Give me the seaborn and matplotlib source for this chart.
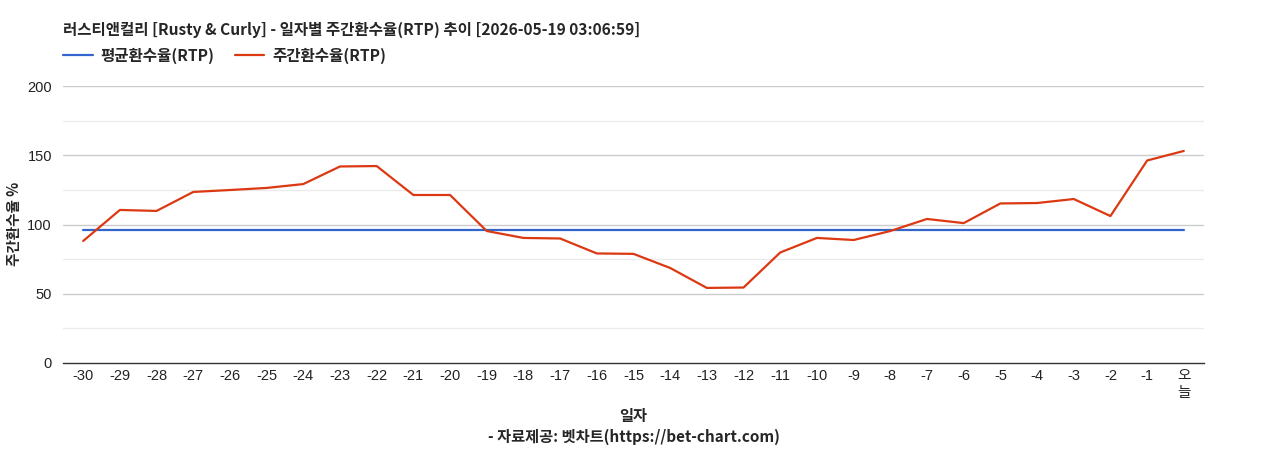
import pandas as pd
import seaborn as sns
import matplotlib.pyplot as plt

days = ['-30', '-29', '-28', '-27', '-26', '-25', '-24', '-23', '-22', '-21',
        '-20', '-19', '-18', '-17', '-16', '-15', '-14', '-13', '-12', '-11',
        '-10', '-9', '-8', '-7', '-6', '-5', '-4', '-3', '-2', '-1', '오\n늘']
weekly_rtp = [88.1, 110.5, 109.8, 123.5, 124.9, 126.4, 129.2, 141.9, 142.2, 121.3,
              121.3, 95.3, 90.3, 89.9, 79.1, 78.8, 68.6, 54.2, 54.5, 79.8,
              90.3, 88.8, 95.3, 104.0, 101.0, 115.2, 115.5, 118.4, 106.1, 146.2, 153.1]
avg_rtp = 96.0

title = '러스티앤컬리 [Rusty & Curly] - 일자별 주간환수율(RTP) 추이 [2026-05-19 03:06:59]'

sns.set_theme(style='white')
plt.rcParams['font.family'] = ['Noto Sans CJK KR', 'DejaVu Sans']

df = pd.DataFrame({'pos': range(len(days)), 'day': days, 'weekly': weekly_rtp,
                   'avg': [avg_rtp] * len(days)})

fig = plt.figure(figsize=(12.68, 4.5), dpi=100)
ax = fig.add_axes([63 / 1268, 87 / 450, (1204 - 63) / 1268, (363 - 86) / 450])

# gridlines
for v in [25, 75, 125, 175]:
    ax.axhline(v, color='#ebebeb', lw=1, zorder=0)
for v in [50, 100, 150, 200]:
    ax.axhline(v, color='#cccccc', lw=1, zorder=0)

sns.lineplot(data=df, x='pos', y='avg', color='#3366cc', lw=1.6, ax=ax, label='평균환수율(RTP)')
sns.lineplot(data=df, x='pos', y='weekly', color='#dc3912', lw=1.6, ax=ax, label='주간환수율(RTP)')

ax.set_xlim(-0.55, len(days) - 0.45)
ax.set_ylim(0, 200)
ax.set_xticks(df['pos'])
ax.set_xticklabels(days, family=['Liberation Sans', 'Noto Sans CJK KR'], fontsize=10.5,
                   color='#222222', linespacing=1.3)
ax.set_yticks([0, 50, 100, 150, 200])
ax.set_yticklabels(['0', '50', '100', '150', '200'], family='Liberation Sans', fontsize=10.5,
                   color='#222222')
ax.tick_params(axis='both', length=0, pad=4)
ax.tick_params(axis='y', pad=8)

for s in ['top', 'right', 'left']:
    ax.spines[s].set_visible(False)
ax.spines['bottom'].set_color('#333333')
ax.spines['bottom'].set_linewidth(1)

ax.set_xlabel('일자', fontsize=11, fontweight='bold', labelpad=6)
ax.set_ylabel('')
fig.text(14 / 1268, 1 - 224 / 450, '주간환수율 %', fontsize=10.5, fontweight='bold',
         rotation=90, ha='center', va='center')

fig.text(63 / 1268, 1 - 30 / 450, title, fontsize=11.2, fontweight='bold', va='center', ha='left')
fig.text(0.5 * (63 + 1204) / 1268, 1 - 437 / 450, '- 자료제공: 벳차트(https://bet-chart.com)',
         fontsize=11, fontweight='bold', ha='center', va='center')

leg = ax.legend(loc='lower left', bbox_to_anchor=(63 / 1268, 1 - 64 / 450),
                bbox_transform=fig.transFigure, ncol=2, frameon=False,
                prop={'weight': 'bold', 'size': 11.2}, handlelength=1.9,
                handletextpad=0.5, columnspacing=1.3, borderaxespad=0, borderpad=0)

fig.savefig('out.png', dpi=100)
